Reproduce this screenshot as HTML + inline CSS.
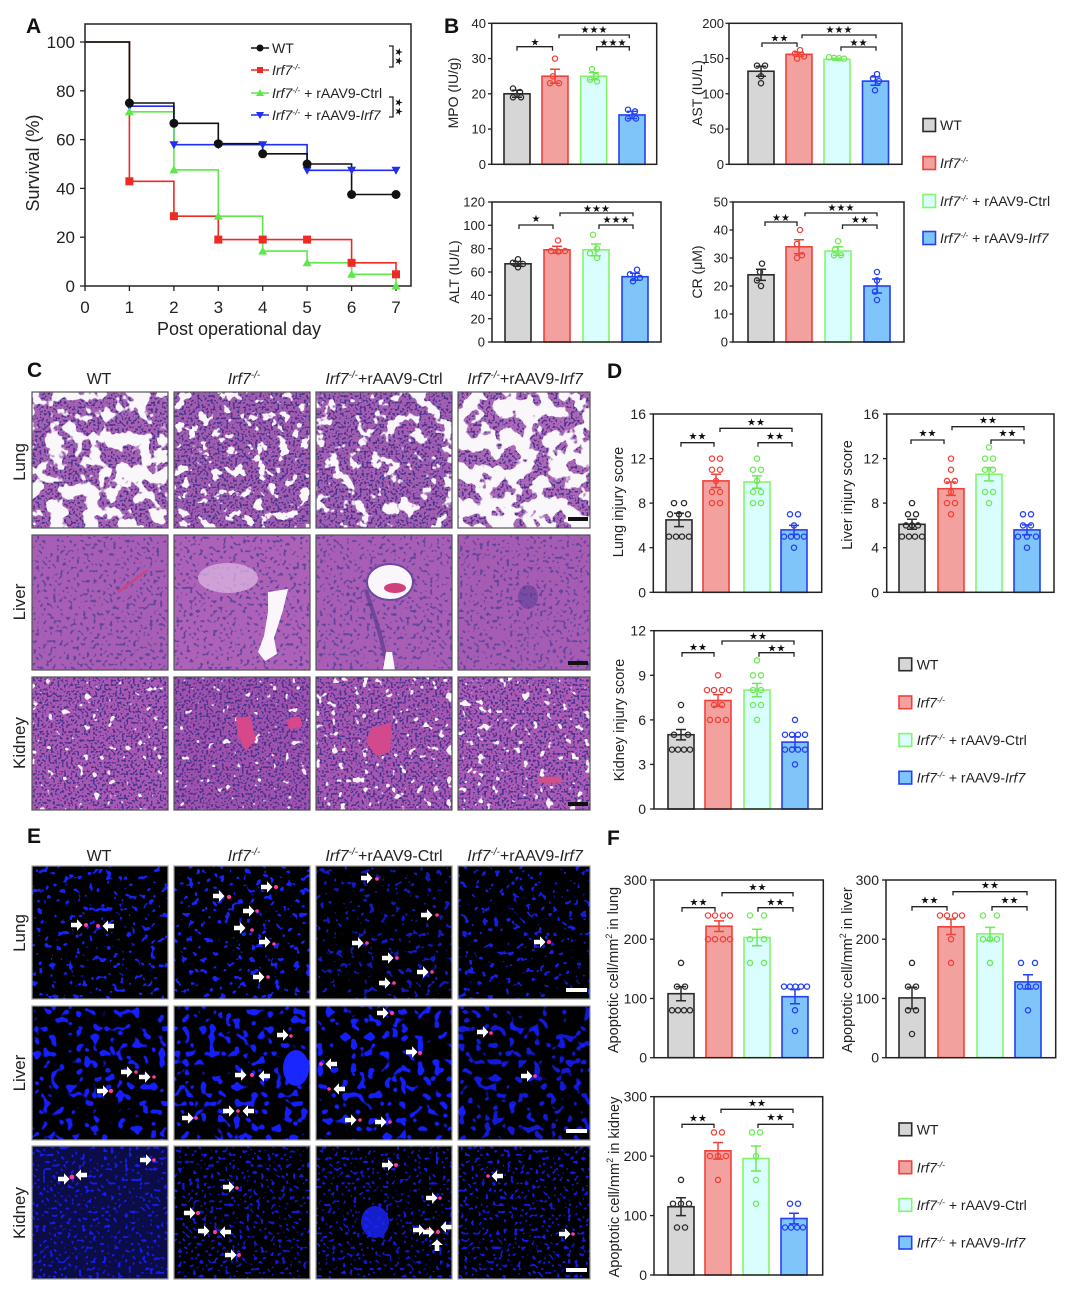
<!DOCTYPE html>
<html><head><meta charset="utf-8"><style>
html,body{margin:0;padding:0;background:#fff}
svg{display:block}
.ax{fill:none;stroke:#222;stroke-width:1.5}
.tk{stroke:#222;stroke-width:1.3}
.br{fill:none;stroke:#222;stroke-width:1.3}
.st{font-family:"DejaVu Sans",sans-serif;font-size:10px;fill:#111;text-anchor:middle}
.t13{font-size:13px;fill:#222}
.t14{font-size:14px;fill:#222}
.e{text-anchor:end}
.m{text-anchor:middle}
.wt{fill:#d6d6d6;stroke:#2a2a2a;stroke-width:1.6}
.ko{fill:#f2a19e;stroke:#f0413a;stroke-width:1.6}
.ct{fill:#dafdfd;stroke:#86f56c;stroke-width:1.6}
.rs{fill:#7fc5fa;stroke:#2340f4;stroke-width:1.6}
.ewt{stroke:#2a2a2a;stroke-width:1.5;fill:none}
.eko{stroke:#f0413a;stroke-width:1.5;fill:none}
.ect{stroke:#6fe858;stroke-width:1.5;fill:none}
.ers{stroke:#2340f4;stroke-width:1.5;fill:none}
.dwt circle{fill:none;stroke:#2a2a2a;stroke-width:1.3}
.dko circle{fill:none;stroke:#f0413a;stroke-width:1.3}
.dct circle{fill:none;stroke:#6fe858;stroke-width:1.3}
.drs circle{fill:none;stroke:#2340f4;stroke-width:1.3}
.lb{font-size:21px;font-weight:bold;fill:#111}
.it{font-style:italic}
.tb{fill:none;stroke:#555;stroke-width:1.2}
.tbe{fill:none;stroke:#999;stroke-width:1.2}
</style></head><body>
<svg width="1080" height="1298" viewBox="0 0 1080 1298" xmlns="http://www.w3.org/2000/svg" font-family="'Liberation Sans','DejaVu Sans',sans-serif">
<defs>
<filter id="hA" x="0" y="0" width="1" height="1" color-interpolation-filters="sRGB"><feTurbulence type="fractalNoise" baseFrequency="0.06" numOctaves="3" seed="3"/><feColorMatrix type="matrix" values="0 0 0 0 0.98 0 0 0 0 0.97 0 0 0 0 0.98 1 0 0 0 0"/><feComponentTransfer><feFuncA type="linear" slope="20" intercept="-9.9"/></feComponentTransfer></filter>
<filter id="hB" x="0" y="0" width="1" height="1" color-interpolation-filters="sRGB"><feTurbulence type="fractalNoise" baseFrequency="0.09" numOctaves="3" seed="5"/><feColorMatrix type="matrix" values="0 0 0 0 0.98 0 0 0 0 0.97 0 0 0 0 0.98 1 0 0 0 0"/><feComponentTransfer><feFuncA type="linear" slope="20" intercept="-11.9"/></feComponentTransfer></filter>
<filter id="hC" x="0" y="0" width="1" height="1" color-interpolation-filters="sRGB"><feTurbulence type="fractalNoise" baseFrequency="0.07" numOctaves="3" seed="7"/><feColorMatrix type="matrix" values="0 0 0 0 0.98 0 0 0 0 0.97 0 0 0 0 0.98 1 0 0 0 0"/><feComponentTransfer><feFuncA type="linear" slope="20" intercept="-11.5"/></feComponentTransfer></filter>
<filter id="hD" x="0" y="0" width="1" height="1" color-interpolation-filters="sRGB"><feTurbulence type="fractalNoise" baseFrequency="0.06" numOctaves="3" seed="11"/><feColorMatrix type="matrix" values="0 0 0 0 0.98 0 0 0 0 0.97 0 0 0 0 0.98 1 0 0 0 0"/><feComponentTransfer><feFuncA type="linear" slope="20" intercept="-9.1"/></feComponentTransfer></filter>
<filter id="hK" x="0" y="0" width="1" height="1" color-interpolation-filters="sRGB"><feTurbulence type="fractalNoise" baseFrequency="0.13" numOctaves="2" seed="13"/><feColorMatrix type="matrix" values="0 0 0 0 0.98 0 0 0 0 0.96 0 0 0 0 0.98 1 0 0 0 0"/><feComponentTransfer><feFuncA type="linear" slope="20" intercept="-13.9"/></feComponentTransfer></filter>
<filter id="hK2" x="0" y="0" width="1" height="1" color-interpolation-filters="sRGB"><feTurbulence type="fractalNoise" baseFrequency="0.13" numOctaves="2" seed="17"/><feColorMatrix type="matrix" values="0 0 0 0 0.98 0 0 0 0 0.96 0 0 0 0 0.98 1 0 0 0 0"/><feComponentTransfer><feFuncA type="linear" slope="20" intercept="-13.1"/></feComponentTransfer></filter>
<filter id="nD" x="0" y="0" width="1" height="1" color-interpolation-filters="sRGB"><feTurbulence type="fractalNoise" baseFrequency="0.45" numOctaves="1" seed="9"/><feColorMatrix type="matrix" values="0 0 0 0 0.29 0 0 0 0 0.2 0 0 0 0 0.55 0 1 0 0 0"/><feComponentTransfer><feFuncA type="linear" slope="12" intercept="-6.3"/></feComponentTransfer></filter>
<filter id="nS" x="0" y="0" width="1" height="1" color-interpolation-filters="sRGB"><feTurbulence type="fractalNoise" baseFrequency="0.3" numOctaves="1" seed="21"/><feColorMatrix type="matrix" values="0 0 0 0 0.38 0 0 0 0 0.27 0 0 0 0 0.62 0 1 0 0 0"/><feComponentTransfer><feFuncA type="linear" slope="12" intercept="-7.0"/></feComponentTransfer></filter>
<filter id="bL" x="0" y="0" width="1" height="1" color-interpolation-filters="sRGB"><feTurbulence type="fractalNoise" baseFrequency="0.16" numOctaves="2" seed="5"/><feColorMatrix type="matrix" values="0 0 0 0 0.08 0 0 0 0 0.14 0 0 0 0 1 1 0 0 0 0"/><feComponentTransfer><feFuncA type="linear" slope="20" intercept="-12.7"/></feComponentTransfer></filter>
<filter id="bLi" x="0" y="0" width="1" height="1" color-interpolation-filters="sRGB"><feTurbulence type="fractalNoise" baseFrequency="0.12" numOctaves="1" seed="8"/><feColorMatrix type="matrix" values="0 0 0 0 0.08 0 0 0 0 0.12 0 0 0 0 1 1 0 0 0 0"/><feComponentTransfer><feFuncA type="linear" slope="20" intercept="-12.3"/></feComponentTransfer></filter>
<filter id="bLi2" x="0" y="0" width="1" height="1" color-interpolation-filters="sRGB"><feTurbulence type="fractalNoise" baseFrequency="0.12" numOctaves="1" seed="31"/><feColorMatrix type="matrix" values="0 0 0 0 0.08 0 0 0 0 0.12 0 0 0 0 1 1 0 0 0 0"/><feComponentTransfer><feFuncA type="linear" slope="20" intercept="-12.3"/></feComponentTransfer></filter>
<filter id="bK" x="0" y="0" width="1" height="1" color-interpolation-filters="sRGB"><feTurbulence type="fractalNoise" baseFrequency="0.28" numOctaves="1" seed="11"/><feColorMatrix type="matrix" values="0 0 0 0 0.08 0 0 0 0 0.12 0 0 0 0 1 1 0 0 0 0"/><feComponentTransfer><feFuncA type="linear" slope="20" intercept="-12.1"/></feComponentTransfer></filter>
<symbol id="ar" overflow="visible"><polygon points="-11,-2.3 -5,-2.3 -5,-5.8 0.5,0 -5,5.8 -5,2.3 -11,2.3" fill="#fff"/></symbol>
</defs>

<!-- ================= PANEL A ================= -->
<text x="26" y="33" class="lb">A</text>
<rect x="85" y="24" width="326" height="262" class="ax"/>
<g class="tk">
<line x1="80" y1="42" x2="85" y2="42"/><line x1="80" y1="90.8" x2="85" y2="90.8"/><line x1="80" y1="139.6" x2="85" y2="139.6"/><line x1="80" y1="188.4" x2="85" y2="188.4"/><line x1="80" y1="237.2" x2="85" y2="237.2"/><line x1="80" y1="286" x2="85" y2="286"/>
<line x1="85" y1="286" x2="85" y2="291"/><line x1="129.4" y1="286" x2="129.4" y2="291"/><line x1="173.9" y1="286" x2="173.9" y2="291"/><line x1="218.3" y1="286" x2="218.3" y2="291"/><line x1="262.7" y1="286" x2="262.7" y2="291"/><line x1="307.1" y1="286" x2="307.1" y2="291"/><line x1="351.6" y1="286" x2="351.6" y2="291"/><line x1="396" y1="286" x2="396" y2="291"/>
</g>
<g font-size="17" fill="#222" text-anchor="end">
<text x="75" y="48">100</text><text x="75" y="96.8">80</text><text x="75" y="145.6">60</text><text x="75" y="194.4">40</text><text x="75" y="243.2">20</text><text x="75" y="292">0</text>
</g>
<g font-size="17" fill="#222" text-anchor="middle">
<text x="85" y="313">0</text><text x="129.4" y="313">1</text><text x="173.9" y="313">2</text><text x="218.3" y="313">3</text><text x="262.7" y="313">4</text><text x="307.1" y="313">5</text><text x="351.6" y="313">6</text><text x="396" y="313">7</text>
</g>
<text x="239" y="335" font-size="18" fill="#222" text-anchor="middle">Post operational day</text>
<text transform="translate(33,163) rotate(-90)" y="6" font-size="18" fill="#222" text-anchor="middle">Survival (%)</text>
<path d="M85,42 H129.4 V106.2 H173.9 V144.7 H307.1 V170.3 H396" fill="none" stroke="#1f2ef0" stroke-width="1.6"/>
<path d="M85,42 H129.4 V111.8 H173.9 V169.9 H218.3 V216.2 H262.7 V251.1 H307.1 V262.8 H351.6 V274.3 H396 V286" fill="none" stroke="#5ee84a" stroke-width="1.6"/>
<path d="M85,42 H129.4 V181.3 H173.9 V216.2 H218.3 V239.6 H351.6 V262.8 H396 V274.3" fill="none" stroke="#ee2a24" stroke-width="1.6"/>
<path d="M85,42 H129.4 V103 H173.9 V123.3 H218.3 V143.7 H262.7 V153.8 H307.1 V164 H351.6 V194.5 H396" fill="none" stroke="#111" stroke-width="1.6"/>
<g fill="#1f2ef0">
<polygon points="124.9,102.7 133.9,102.7 129.4,110.7"/><polygon points="169.4,141.2 178.4,141.2 173.9,149.2"/><polygon points="213.8,141.2 222.8,141.2 218.3,149.2"/><polygon points="258.2,141.2 267.2,141.2 262.7,149.2"/><polygon points="302.6,166.8 311.6,166.8 307.1,174.8"/><polygon points="347.1,166.8 356.1,166.8 351.6,174.8"/><polygon points="391.5,166.8 400.5,166.8 396,174.8"/>
</g>
<g fill="#5ee84a">
<polygon points="124.9,115.3 133.9,115.3 129.4,107.3"/><polygon points="169.4,173.4 178.4,173.4 173.9,165.4"/><polygon points="213.8,219.7 222.8,219.7 218.3,211.7"/><polygon points="258.2,254.6 267.2,254.6 262.7,246.6"/><polygon points="302.6,266.3 311.6,266.3 307.1,258.3"/><polygon points="347.1,277.8 356.1,277.8 351.6,269.8"/><polygon points="391.5,289.5 400.5,289.5 396,281.5"/>
</g>
<g fill="#ee2a24">
<rect x="125.4" y="177.3" width="8" height="8"/><rect x="169.9" y="212.2" width="8" height="8"/><rect x="214.3" y="235.6" width="8" height="8"/><rect x="258.7" y="235.6" width="8" height="8"/><rect x="303.1" y="235.6" width="8" height="8"/><rect x="347.6" y="258.8" width="8" height="8"/><rect x="392" y="270.3" width="8" height="8"/>
</g>
<g fill="#111">
<circle cx="129.4" cy="103" r="4.5"/><circle cx="173.9" cy="123.3" r="4.5"/><circle cx="218.3" cy="143.7" r="4.5"/><circle cx="262.7" cy="153.8" r="4.5"/><circle cx="307.1" cy="164" r="4.5"/><circle cx="351.6" cy="194.5" r="4.5"/><circle cx="396" cy="194.5" r="4.5"/>
</g>
<line x1="251" y1="48" x2="269" y2="48" stroke="#111" stroke-width="1.5"/><circle cx="260" cy="48" r="3.5" fill="#111"/>
<line x1="251" y1="70" x2="269" y2="70" stroke="#ee2a24" stroke-width="1.5"/><rect x="257" y="67" width="6" height="6" fill="#ee2a24"/>
<line x1="251" y1="93" x2="269" y2="93" stroke="#5ee84a" stroke-width="1.5"/><polygon points="256,96 264,96 260,89" fill="#5ee84a"/>
<line x1="251" y1="115" x2="269" y2="115" stroke="#1f2ef0" stroke-width="1.5"/><polygon points="256,112 264,112 260,119" fill="#1f2ef0"/>
<g font-size="14" fill="#222">
<text x="272" y="53">WT</text>
<text x="272" y="75"><tspan class="it">Irf7</tspan><tspan font-size="8.5" dy="-5" class="it">-/-</tspan></text>
<text x="272" y="98"><tspan class="it">Irf7</tspan><tspan font-size="8.5" dy="-5" class="it">-/-</tspan><tspan dy="5"> + rAAV9-Ctrl</tspan></text>
<text x="272" y="120"><tspan class="it">Irf7</tspan><tspan font-size="8.5" dy="-5" class="it">-/-</tspan><tspan dy="5"> + rAAV9-</tspan><tspan class="it">Irf7</tspan></text>
</g>
<path d="M389,46 H393 V67 H389" class="br"/>
<path d="M389,97 H393 V117 H389" class="br"/>
<text transform="translate(399,56.5) rotate(90)" y="3.5" class="st">★★</text>
<text transform="translate(399,107) rotate(90)" y="3.5" class="st">★★</text>

<!-- ================= PANEL B ================= -->
<text x="444" y="33" class="lb">B</text>
<g>
<g class="tk"><line x1="488" y1="164.3" x2="491.7" y2="164.3"/><line x1="488" y1="129.05" x2="491.7" y2="129.05"/><line x1="488" y1="93.8" x2="491.7" y2="93.8"/><line x1="488" y1="58.55" x2="491.7" y2="58.55"/><line x1="488" y1="23.3" x2="491.7" y2="23.3"/></g>
<g class="t13 e"><text x="486" y="169">0</text><text x="486" y="133.7">10</text><text x="486" y="98.5">20</text><text x="486" y="63.2">30</text><text x="486" y="28">40</text></g>
<text transform="translate(453,93) rotate(-90)" y="5" class="t14 m">MPO (IU/g)</text>
<rect x="504" y="93.8" width="26" height="70.5" class="wt"/>
<rect x="542" y="76.2" width="26" height="88.1" class="ko"/>
<rect x="580.7" y="76.2" width="26" height="88.1" class="ct"/>
<rect x="619" y="114.95" width="26" height="49.35" class="rs"/>
<path class="ewt" d="M517,90.3 V97.3 M512,90.3 H522 M512,97.3 H522"/>
<path class="eko" d="M555,69.2 V83.3 M550,69.2 H560 M550,83.3 H560"/>
<path class="ect" d="M593.7,72.7 V79.7 M588.7,72.7 H598.7 M588.7,79.7 H598.7"/>
<path class="ers" d="M632,111.4 V118.5 M627,111.4 H637 M627,118.5 H637"/>
<g class="dwt"><circle cx="513" cy="88.5" r="2.6"/><circle cx="520" cy="92" r="2.6"/><circle cx="513" cy="97.3" r="2.6"/><circle cx="521" cy="97.3" r="2.6"/></g>
<g class="dko"><circle cx="555" cy="58.6" r="2.6"/><circle cx="553" cy="76.2" r="2.6"/><circle cx="550" cy="83.2" r="2.6"/><circle cx="559" cy="83.2" r="2.6"/></g>
<g class="dct"><circle cx="592" cy="69.1" r="2.6"/><circle cx="596" cy="76.2" r="2.6"/><circle cx="590" cy="79.7" r="2.6"/><circle cx="597" cy="81.5" r="2.6"/></g>
<g class="drs"><circle cx="628" cy="109.7" r="2.6"/><circle cx="635" cy="111.4" r="2.6"/><circle cx="628" cy="118.5" r="2.6"/><circle cx="636" cy="118.5" r="2.6"/></g>
<path class="br" d="M517,50.7 V46.7 H552.5 V50.7 M559,38.3 V35 H629.3 V38.3 M596.7,50.7 V46.7 H629.3 V50.7"/>
<text x="535" y="45.5" class="st">★</text><text x="594" y="33" class="st">★★★</text><text x="613" y="46" class="st">★★★</text>
<rect x="491.7" y="23.3" width="165" height="141" class="ax"/>
</g>
<g>
<g class="tk"><line x1="725.5" y1="164.3" x2="729" y2="164.3"/><line x1="725.5" y1="129.05" x2="729" y2="129.05"/><line x1="725.5" y1="93.8" x2="729" y2="93.8"/><line x1="725.5" y1="58.55" x2="729" y2="58.55"/><line x1="725.5" y1="23.3" x2="729" y2="23.3"/></g>
<g class="t13 e"><text x="724" y="169">0</text><text x="724" y="133.7">50</text><text x="724" y="98.5">100</text><text x="724" y="63.2">150</text><text x="724" y="28">200</text></g>
<text transform="translate(697,93) rotate(-90)" y="5" class="t14 m">AST (IU/L)</text>
<rect x="748" y="71.24" width="26" height="93.06" class="wt"/>
<rect x="786" y="54.32" width="26" height="109.98" class="ko"/>
<rect x="824" y="59.26" width="26" height="105.04" class="ct"/>
<rect x="862.5" y="81.11" width="26" height="83.19" class="rs"/>
<path class="ewt" d="M761,66.3 V76.2 M756,66.3 H766 M756,76.2 H766"/>
<path class="eko" d="M799,52.2 V56.4 M794,52.2 H804 M794,56.4 H804"/>
<path class="ect" d="M837,58.2 V60.3 M832,58.2 H842 M832,60.3 H842"/>
<path class="ers" d="M875.5,76.9 V85.3 M870.5,76.9 H880.5 M870.5,85.3 H880.5"/>
<g class="dwt"><circle cx="757" cy="65.6" r="2.6"/><circle cx="765" cy="65.6" r="2.6"/><circle cx="761" cy="76.2" r="2.6"/><circle cx="761" cy="83.2" r="2.6"/></g>
<g class="dko"><circle cx="800" cy="50.1" r="2.6"/><circle cx="795" cy="53.6" r="2.6"/><circle cx="804" cy="56.4" r="2.6"/><circle cx="797" cy="58.6" r="2.6"/></g>
<g class="dct"><circle cx="829" cy="57.2" r="2.6"/><circle cx="834" cy="57.9" r="2.6"/><circle cx="839" cy="58.2" r="2.6"/><circle cx="844" cy="58.6" r="2.6"/></g>
<g class="drs"><circle cx="877" cy="74.1" r="2.6"/><circle cx="873" cy="78.3" r="2.6"/><circle cx="879" cy="81.1" r="2.6"/><circle cx="875" cy="90.3" r="2.6"/></g>
<path class="br" d="M762,47 V43 H797 V47 M802,38.3 V35 H876 V38.3 M841,50.7 V47 H876 V50.7"/>
<text x="779.5" y="41.4" class="st">★★</text><text x="839" y="33" class="st">★★★</text><text x="858.5" y="46" class="st">★★</text>
<rect x="729" y="23.3" width="173" height="141" class="ax"/>
</g>
<g>
<g class="tk"><line x1="488" y1="342" x2="492" y2="342"/><line x1="488" y1="318.7" x2="492" y2="318.7"/><line x1="488" y1="295.3" x2="492" y2="295.3"/><line x1="488" y1="272" x2="492" y2="272"/><line x1="488" y1="248.7" x2="492" y2="248.7"/><line x1="488" y1="225.3" x2="492" y2="225.3"/><line x1="488" y1="202" x2="492" y2="202"/></g>
<g class="t13 e"><text x="485" y="346.7">0</text><text x="485" y="323.4">20</text><text x="485" y="300">40</text><text x="485" y="276.7">60</text><text x="485" y="253.4">80</text><text x="485" y="230">100</text><text x="485" y="206.7">120</text></g>
<text transform="translate(454,272) rotate(-90)" y="5" class="t14 m">ALT (IU/L)</text>
<rect x="505" y="263.8" width="26" height="78.2" class="wt"/>
<rect x="544" y="249.8" width="26" height="92.2" class="ko"/>
<rect x="583" y="249.8" width="26" height="92.2" class="ct"/>
<rect x="622" y="276.7" width="26" height="65.3" class="rs"/>
<path class="ewt" d="M518,261.5 V266.2 M513,261.5 H523 M513,266.2 H523"/>
<path class="eko" d="M557,246.3 V253.3 M552,246.3 H562 M552,253.3 H562"/>
<path class="ect" d="M596,244 V255.7 M591,244 H601 M591,255.7 H601"/>
<path class="ers" d="M635,273.2 V280.2 M630,273.2 H640 M630,280.2 H640"/>
<g class="dwt"><circle cx="518" cy="259.2" r="2.6"/><circle cx="513" cy="262.7" r="2.6"/><circle cx="523" cy="264" r="2.6"/><circle cx="518" cy="267.3" r="2.6"/></g>
<g class="dko"><circle cx="558" cy="240.5" r="2.6"/><circle cx="551" cy="251" r="2.6"/><circle cx="558" cy="251.5" r="2.6"/><circle cx="565" cy="251" r="2.6"/></g>
<g class="dct"><circle cx="593" cy="234.7" r="2.6"/><circle cx="597" cy="248.7" r="2.6"/><circle cx="590" cy="253.3" r="2.6"/><circle cx="597" cy="258" r="2.6"/></g>
<g class="drs"><circle cx="637" cy="269.7" r="2.6"/><circle cx="630" cy="274.3" r="2.6"/><circle cx="640" cy="277.8" r="2.6"/><circle cx="633" cy="281.3" r="2.6"/></g>
<path class="br" d="M519,229 V225 H553 V229 M560,216.3 V213 H633 V216.3 M599,229 V225 H633 V229"/>
<text x="536" y="222" class="st">★</text><text x="596.5" y="212" class="st">★★★</text><text x="616" y="223" class="st">★★★</text>
<rect x="492" y="202" width="169" height="140" class="ax"/>
</g>
<g>
<g class="tk"><line x1="729.5" y1="342" x2="733" y2="342"/><line x1="729.5" y1="314" x2="733" y2="314"/><line x1="729.5" y1="286" x2="733" y2="286"/><line x1="729.5" y1="258" x2="733" y2="258"/><line x1="729.5" y1="230" x2="733" y2="230"/><line x1="729.5" y1="202" x2="733" y2="202"/></g>
<g class="t13 e"><text x="728" y="346.7">0</text><text x="728" y="318.7">10</text><text x="728" y="290.7">20</text><text x="728" y="262.7">30</text><text x="728" y="234.7">40</text><text x="728" y="206.7">50</text></g>
<text transform="translate(697,272) rotate(-90)" y="5" class="t14 m">CR (μM)</text>
<rect x="748" y="274.8" width="26" height="67.2" class="wt"/>
<rect x="786" y="246.8" width="26" height="95.2" class="ko"/>
<rect x="825" y="251" width="26" height="91" class="ct"/>
<rect x="864" y="286" width="26" height="56" class="rs"/>
<path class="ewt" d="M761,269.2 V280.4 M756,269.2 H766 M756,280.4 H766"/>
<path class="eko" d="M799,239.8 V253.8 M794,239.8 H804 M794,253.8 H804"/>
<path class="ect" d="M838,246.8 V255.2 M833,246.8 H843 M833,255.2 H843"/>
<path class="ers" d="M877,279 V293 M872,279 H882 M872,293 H882"/>
<g class="dwt"><circle cx="762" cy="263.6" r="2.6"/><circle cx="760" cy="272" r="2.6"/><circle cx="757" cy="280.4" r="2.6"/><circle cx="761" cy="286" r="2.6"/></g>
<g class="dko"><circle cx="800" cy="230" r="2.6"/><circle cx="797" cy="244" r="2.6"/><circle cx="802" cy="255.2" r="2.6"/><circle cx="797" cy="258" r="2.6"/></g>
<g class="dct"><circle cx="838" cy="241.2" r="2.6"/><circle cx="835" cy="249.6" r="2.6"/><circle cx="834" cy="255.2" r="2.6"/><circle cx="841" cy="255.2" r="2.6"/></g>
<g class="drs"><circle cx="877" cy="272" r="2.6"/><circle cx="877" cy="280.4" r="2.6"/><circle cx="875" cy="291.6" r="2.6"/><circle cx="877" cy="300" r="2.6"/></g>
<path class="br" d="M765,226 V222 H797 V226 M805,216.3 V213 H877 V216.3 M842.5,229 V225 H877 V229"/>
<text x="781" y="221" class="st">★★</text><text x="841" y="211" class="st">★★★</text><text x="860" y="223" class="st">★★</text>
<rect x="733" y="202" width="171" height="140" class="ax"/>
</g>
<rect x="923" y="118.5" width="12.5" height="13" class="wt"/>
<rect x="923" y="156.5" width="12.5" height="13" class="ko"/>
<rect x="923" y="194.5" width="12.5" height="13" class="ct"/>
<rect x="923" y="231.5" width="12.5" height="13" class="rs"/>
<g font-size="14" fill="#222">
<text x="940" y="130">WT</text>
<text x="940" y="168"><tspan class="it">Irf7</tspan><tspan font-size="8.5" dy="-5" class="it">-/-</tspan></text>
<text x="940" y="206"><tspan class="it">Irf7</tspan><tspan font-size="8.5" dy="-5" class="it">-/-</tspan><tspan dy="5"> + rAAV9-Ctrl</tspan></text>
<text x="940" y="243"><tspan class="it">Irf7</tspan><tspan font-size="8.5" dy="-5" class="it">-/-</tspan><tspan dy="5"> + rAAV9-</tspan><tspan class="it">Irf7</tspan></text>
</g>

<!-- ================= PANEL C ================= -->
<text x="27" y="377" class="lb">C</text>
<g font-size="16" fill="#222" text-anchor="middle">
<text x="99" y="384">WT</text>
<text x="244" y="384"><tspan class="it">Irf7</tspan><tspan font-size="10" dy="-6" class="it">-/-</tspan></text>
<text x="384" y="384"><tspan class="it">Irf7</tspan><tspan font-size="10" dy="-6" class="it">-/-</tspan><tspan dy="6">+rAAV9-Ctrl</tspan></text>
<text x="525" y="384"><tspan class="it">Irf7</tspan><tspan font-size="10" dy="-6" class="it">-/-</tspan><tspan dy="6">+rAAV9-</tspan><tspan class="it">Irf7</tspan></text>
</g>
<g font-size="17" fill="#222" text-anchor="middle">
<text transform="translate(19,462) rotate(-90)" y="6">Lung</text>
<text transform="translate(19,602) rotate(-90)" y="6">Liver</text>
<text transform="translate(19,743) rotate(-90)" y="6">Kidney</text>
</g>
<rect x="32" y="392" width="136" height="136" fill="#a862b4"/><rect x="32" y="392" width="136" height="136" filter="url(#nD)"/><rect x="32" y="392" width="136" height="136" filter="url(#hA)"/>
<rect x="174" y="392" width="136" height="136" fill="#a25cb0"/><rect x="174" y="392" width="136" height="136" filter="url(#nD)"/><rect x="174" y="392" width="136" height="136" filter="url(#hB)"/>
<rect x="316" y="392" width="136" height="136" fill="#a45eb2"/><rect x="316" y="392" width="136" height="136" filter="url(#nD)"/><rect x="316" y="392" width="136" height="136" filter="url(#hC)"/>
<rect x="458" y="392" width="132" height="136" fill="#ae68b8"/><rect x="458" y="392" width="132" height="136" filter="url(#nD)"/><rect x="458" y="392" width="132" height="136" filter="url(#hD)"/>
<rect x="32" y="535" width="136" height="135" fill="#a95eb5"/><rect x="32" y="535" width="136" height="135" filter="url(#nS)"/>
<line x1="118" y1="592" x2="148" y2="570" stroke="#c8477c" stroke-width="2.5"/>
<rect x="174" y="535" width="136" height="135" fill="#ad62b8"/><rect x="174" y="535" width="136" height="135" filter="url(#nS)"/>
<ellipse cx="228" cy="578" rx="30" ry="15" fill="#dcb6e2" opacity="0.75"/>
<polygon points="268,592 288,589 283,610 274,638 277,654 265,661 258,652 264,636 268,612" fill="#fbf6fb"/>
<rect x="316" y="535" width="136" height="135" fill="#a95eb5"/><rect x="316" y="535" width="136" height="135" filter="url(#nS)"/>
<path d="M366,590 C372,610 380,630 386,660" fill="none" stroke="#5a3a92" stroke-width="4" opacity="0.7"/>
<ellipse cx="390" cy="582" rx="23" ry="18" fill="#fbf6fb" stroke="#6a4aa0" stroke-width="2"/>
<ellipse cx="395" cy="588" rx="11" ry="5" fill="#d2407a"/>
<polygon points="386,652 392,652 395,670 383,670" fill="#fbf6fb"/>
<rect x="458" y="535" width="132" height="135" fill="#a75cb3"/><rect x="458" y="535" width="132" height="135" filter="url(#nS)"/>
<ellipse cx="528" cy="597" rx="10" ry="12" fill="#5e3e98" opacity="0.6"/>
<rect x="32" y="677" width="136" height="133" fill="#aa5ab4"/><rect x="32" y="677" width="136" height="133" filter="url(#nD)"/><rect x="32" y="677" width="136" height="133" filter="url(#hK)"/>
<rect x="174" y="677" width="136" height="133" fill="#a052ae"/><rect x="174" y="677" width="136" height="133" filter="url(#nD)"/><rect x="174" y="677" width="136" height="133" filter="url(#hK)"/>
<polygon points="236,718 250,716 256,740 246,750 238,736" fill="#d6488a"/>
<polygon points="286,720 300,716 302,726 290,730" fill="#d6488a"/>
<rect x="316" y="677" width="136" height="133" fill="#a858b2"/><rect x="316" y="677" width="136" height="133" filter="url(#nD)"/><rect x="316" y="677" width="136" height="133" filter="url(#hK2)"/>
<polygon points="372,728 392,722 390,752 376,756 366,742" fill="#d24a8c"/>
<rect x="458" y="677" width="132" height="133" fill="#ac5cb6"/><rect x="458" y="677" width="132" height="133" filter="url(#nD)"/><rect x="458" y="677" width="132" height="133" filter="url(#hK2)"/>
<ellipse cx="550" cy="780" rx="13" ry="3.5" fill="#d0508a"/>
<g class="tb">
<rect x="32" y="392" width="136" height="136"/><rect x="174" y="392" width="136" height="136"/><rect x="316" y="392" width="136" height="136"/><rect x="458" y="392" width="132" height="136"/>
<rect x="32" y="535" width="136" height="135"/><rect x="174" y="535" width="136" height="135"/><rect x="316" y="535" width="136" height="135"/><rect x="458" y="535" width="132" height="135"/>
<rect x="32" y="677" width="136" height="133"/><rect x="174" y="677" width="136" height="133"/><rect x="316" y="677" width="136" height="133"/><rect x="458" y="677" width="132" height="133"/>
</g>
<rect x="568" y="517" width="20" height="4" fill="#111"/>
<rect x="568" y="661" width="20" height="4" fill="#111"/>
<rect x="568" y="802" width="20" height="4" fill="#111"/>

<!-- ================= PANEL D ================= -->
<text x="607" y="378" class="lb">D</text>
<g>
<g class="tk"><line x1="649.5" y1="592.3" x2="653.3" y2="592.3"/><line x1="649.5" y1="547.7" x2="653.3" y2="547.7"/><line x1="649.5" y1="503.1" x2="653.3" y2="503.1"/><line x1="649.5" y1="458.6" x2="653.3" y2="458.6"/><line x1="649.5" y1="414" x2="653.3" y2="414"/></g>
<g class="t14 e"><text x="646" y="597.3">0</text><text x="646" y="552.7">4</text><text x="646" y="508.1">8</text><text x="646" y="463.6">12</text><text x="646" y="419">16</text></g>
<text transform="translate(618,502) rotate(-90)" y="5" class="m" font-size="14.5" fill="#222">Lung injury score</text>
<rect x="666" y="519.9" width="26" height="72.4" class="wt"/>
<rect x="703" y="480.9" width="26" height="111.4" class="ko"/>
<rect x="744" y="482" width="26" height="110.3" class="ct"/>
<rect x="781" y="529.9" width="26" height="62.4" class="rs"/>
<path class="ewt" d="M679,513.2 V526.6 M674,513.2 H684 M674,526.6 H684"/>
<path class="eko" d="M716,474.2 V487.6 M711,474.2 H721 M711,487.6 H721"/>
<path class="ect" d="M757,475.9 V488.2 M752,475.9 H762 M752,488.2 H762"/>
<path class="ers" d="M794,525.4 V534.4 M789,525.4 H799 M789,534.4 H799"/>
<g class="dwt"><circle cx="674" cy="503.1" r="2.6"/><circle cx="684" cy="503.1" r="2.6"/><circle cx="670" cy="514.3" r="2.6"/><circle cx="679" cy="514.3" r="2.6"/><circle cx="688" cy="514.3" r="2.6"/><circle cx="669" cy="536.6" r="2.6"/><circle cx="676" cy="536.6" r="2.6"/><circle cx="682" cy="536.6" r="2.6"/><circle cx="689" cy="536.6" r="2.6"/></g>
<g class="dko"><circle cx="712" cy="458.6" r="2.6"/><circle cx="720" cy="458.6" r="2.6"/><circle cx="712" cy="469.7" r="2.6"/><circle cx="720" cy="469.7" r="2.6"/><circle cx="716" cy="480.9" r="2.6"/><circle cx="712" cy="492" r="2.6"/><circle cx="720" cy="492" r="2.6"/><circle cx="712" cy="503.1" r="2.6"/><circle cx="720" cy="503.1" r="2.6"/></g>
<g class="dct"><circle cx="757" cy="458.6" r="2.6"/><circle cx="753" cy="469.7" r="2.6"/><circle cx="761" cy="469.7" r="2.6"/><circle cx="757" cy="480.9" r="2.6"/><circle cx="753" cy="492" r="2.6"/><circle cx="761" cy="492" r="2.6"/><circle cx="753" cy="503.1" r="2.6"/><circle cx="761" cy="503.1" r="2.6"/></g>
<g class="drs"><circle cx="790" cy="514.3" r="2.6"/><circle cx="798" cy="514.3" r="2.6"/><circle cx="794" cy="525.4" r="2.6"/><circle cx="784" cy="536.6" r="2.6"/><circle cx="791" cy="536.6" r="2.6"/><circle cx="797" cy="536.6" r="2.6"/><circle cx="804" cy="536.6" r="2.6"/><circle cx="794" cy="547.7" r="2.6"/></g>
<path class="br" d="M681,446.7 V442.7 H714 V446.7 M720,432 V428.3 H792 V432 M758,446.7 V442.7 H792 V446.7"/>
<text x="697.5" y="439.7" class="st">★★</text><text x="756" y="425.4" class="st">★★</text><text x="775" y="439.7" class="st">★★</text>
<rect x="653.3" y="414" width="168.4" height="178.3" class="ax"/>
</g>
<g>
<g class="tk"><line x1="883" y1="592.3" x2="886.7" y2="592.3"/><line x1="883" y1="547.7" x2="886.7" y2="547.7"/><line x1="883" y1="503.1" x2="886.7" y2="503.1"/><line x1="883" y1="458.6" x2="886.7" y2="458.6"/><line x1="883" y1="414" x2="886.7" y2="414"/></g>
<g class="t14 e"><text x="879" y="597.3">0</text><text x="879" y="552.7">4</text><text x="879" y="508.1">8</text><text x="879" y="463.6">12</text><text x="879" y="419">16</text></g>
<text transform="translate(847,495) rotate(-90)" y="5" class="m" font-size="14.5" fill="#222">Liver injury score</text>
<rect x="899" y="524.3" width="26" height="68" class="wt"/>
<rect x="938" y="488.7" width="26" height="103.6" class="ko"/>
<rect x="976" y="474.2" width="26" height="118.1" class="ct"/>
<rect x="1014" y="529.9" width="26" height="62.4" class="rs"/>
<path class="ewt" d="M912,519.3 V529.3 M907,519.3 H917 M907,529.3 H917"/>
<path class="eko" d="M951,482 V495.4 M946,482 H956 M946,495.4 H956"/>
<path class="ect" d="M989,467.5 V480.9 M984,467.5 H994 M984,480.9 H994"/>
<path class="ers" d="M1027,524.9 V534.9 M1022,524.9 H1032 M1022,534.9 H1032"/>
<g class="dwt"><circle cx="912" cy="503.1" r="2.6"/><circle cx="908" cy="514.3" r="2.6"/><circle cx="916" cy="514.3" r="2.6"/><circle cx="906" cy="525.4" r="2.6"/><circle cx="912" cy="525.4" r="2.6"/><circle cx="918" cy="525.4" r="2.6"/><circle cx="902" cy="536.6" r="2.6"/><circle cx="909" cy="536.6" r="2.6"/><circle cx="915" cy="536.6" r="2.6"/><circle cx="922" cy="536.6" r="2.6"/></g>
<g class="dko"><circle cx="951" cy="458.6" r="2.6"/><circle cx="951" cy="469.7" r="2.6"/><circle cx="947" cy="480.9" r="2.6"/><circle cx="955" cy="480.9" r="2.6"/><circle cx="951" cy="492" r="2.6"/><circle cx="947" cy="503.1" r="2.6"/><circle cx="955" cy="503.1" r="2.6"/><circle cx="951" cy="514.3" r="2.6"/></g>
<g class="dct"><circle cx="989" cy="447.4" r="2.6"/><circle cx="985" cy="458.6" r="2.6"/><circle cx="993" cy="458.6" r="2.6"/><circle cx="985" cy="469.7" r="2.6"/><circle cx="993" cy="469.7" r="2.6"/><circle cx="985" cy="492" r="2.6"/><circle cx="993" cy="492" r="2.6"/><circle cx="989" cy="503.1" r="2.6"/></g>
<g class="drs"><circle cx="1023" cy="514.3" r="2.6"/><circle cx="1031" cy="514.3" r="2.6"/><circle cx="1023" cy="525.4" r="2.6"/><circle cx="1031" cy="525.4" r="2.6"/><circle cx="1018" cy="536.6" r="2.6"/><circle cx="1027" cy="536.6" r="2.6"/><circle cx="1036" cy="536.6" r="2.6"/><circle cx="1027" cy="547.7" r="2.6"/></g>
<path class="br" d="M911,444 V440 H944 V444 M952,430.3 V426.7 H1024 V430.3 M991,444 V440 H1024 V444"/>
<text x="927.5" y="436.4" class="st">★★</text><text x="988" y="423.7" class="st">★★</text><text x="1007.5" y="436.4" class="st">★★</text>
<rect x="886.7" y="414" width="167.3" height="178.3" class="ax"/>
</g>
<g>
<g class="tk"><line x1="650" y1="809" x2="654" y2="809"/><line x1="650" y1="764.4" x2="654" y2="764.4"/><line x1="650" y1="719.9" x2="654" y2="719.9"/><line x1="650" y1="675.3" x2="654" y2="675.3"/><line x1="650" y1="630.7" x2="654" y2="630.7"/></g>
<g class="t14 e"><text x="646" y="814">0</text><text x="646" y="769.4">3</text><text x="646" y="724.9">6</text><text x="646" y="680.3">9</text><text x="646" y="635.7">12</text></g>
<text transform="translate(619,720) rotate(-90)" y="5" class="m" font-size="14.5" fill="#222">Kidney injury score</text>
<rect x="668" y="734.7" width="26" height="74.3" class="wt"/>
<rect x="705" y="700.5" width="26" height="108.5" class="ko"/>
<rect x="744" y="690.1" width="26" height="118.9" class="ct"/>
<rect x="782" y="742.1" width="26" height="66.9" class="rs"/>
<path class="ewt" d="M681,729.5 V739.9 M676,729.5 H686 M676,739.9 H686"/>
<path class="eko" d="M718,694.6 V706.4 M713,694.6 H723 M713,706.4 H723"/>
<path class="ect" d="M757,683.4 V696.8 M752,683.4 H762 M752,696.8 H762"/>
<path class="ers" d="M795,736.9 V747.3 M790,736.9 H800 M790,747.3 H800"/>
<g class="dwt"><circle cx="681" cy="705" r="2.6"/><circle cx="681" cy="719.9" r="2.6"/><circle cx="674" cy="734.7" r="2.6"/><circle cx="688" cy="734.7" r="2.6"/><circle cx="672" cy="749.6" r="2.6"/><circle cx="678" cy="749.6" r="2.6"/><circle cx="684" cy="749.6" r="2.6"/><circle cx="690" cy="749.6" r="2.6"/></g>
<g class="dko"><circle cx="718" cy="675.3" r="2.6"/><circle cx="707" cy="690.1" r="2.6"/><circle cx="714" cy="690.1" r="2.6"/><circle cx="722" cy="690.1" r="2.6"/><circle cx="729" cy="690.1" r="2.6"/><circle cx="714" cy="705" r="2.6"/><circle cx="722" cy="705" r="2.6"/><circle cx="710" cy="719.9" r="2.6"/><circle cx="718" cy="719.9" r="2.6"/><circle cx="726" cy="719.9" r="2.6"/></g>
<g class="dct"><circle cx="757" cy="660.4" r="2.6"/><circle cx="753" cy="675.3" r="2.6"/><circle cx="761" cy="675.3" r="2.6"/><circle cx="753" cy="690.1" r="2.6"/><circle cx="761" cy="690.1" r="2.6"/><circle cx="753" cy="705" r="2.6"/><circle cx="761" cy="705" r="2.6"/><circle cx="757" cy="719.9" r="2.6"/></g>
<g class="drs"><circle cx="795" cy="719.9" r="2.6"/><circle cx="785" cy="734.7" r="2.6"/><circle cx="792" cy="734.7" r="2.6"/><circle cx="798" cy="734.7" r="2.6"/><circle cx="805" cy="734.7" r="2.6"/><circle cx="785" cy="749.6" r="2.6"/><circle cx="792" cy="749.6" r="2.6"/><circle cx="798" cy="749.6" r="2.6"/><circle cx="805" cy="749.6" r="2.6"/><circle cx="795" cy="764.4" r="2.6"/></g>
<path class="br" d="M682,656.7 V652.7 H714 V656.7 M722,644.7 V641 H794 V644.7 M759,656.7 V652.7 H794 V656.7"/>
<text x="698" y="650.4" class="st">★★</text><text x="758" y="639.7" class="st">★★</text><text x="776.5" y="651.4" class="st">★★</text>
<rect x="654" y="630.7" width="168.3" height="178.3" class="ax"/>
</g>
<rect x="899" y="658" width="12.7" height="12.7" class="wt"/>
<rect x="899" y="696" width="12.7" height="12.7" class="ko"/>
<rect x="899" y="733.6" width="12.7" height="12.7" class="ct"/>
<rect x="899" y="771.3" width="12.7" height="12.7" class="rs"/>
<g font-size="14" fill="#222">
<text x="916.7" y="669.3">WT</text>
<text x="916.7" y="707.3"><tspan class="it">Irf7</tspan><tspan font-size="8.5" dy="-5" class="it">-/-</tspan></text>
<text x="916.7" y="745"><tspan class="it">Irf7</tspan><tspan font-size="8.5" dy="-5" class="it">-/-</tspan><tspan dy="5"> + rAAV9-Ctrl</tspan></text>
<text x="916.7" y="782.7"><tspan class="it">Irf7</tspan><tspan font-size="8.5" dy="-5" class="it">-/-</tspan><tspan dy="5"> + rAAV9-</tspan><tspan class="it">Irf7</tspan></text>
</g>

<!-- ================= PANEL E ================= -->
<text x="27" y="843" class="lb">E</text>
<g font-size="16" fill="#222" text-anchor="middle">
<text x="99" y="861">WT</text>
<text x="244" y="861"><tspan class="it">Irf7</tspan><tspan font-size="10" dy="-6" class="it">-/-</tspan></text>
<text x="384" y="861"><tspan class="it">Irf7</tspan><tspan font-size="10" dy="-6" class="it">-/-</tspan><tspan dy="6">+rAAV9-Ctrl</tspan></text>
<text x="525" y="861"><tspan class="it">Irf7</tspan><tspan font-size="10" dy="-6" class="it">-/-</tspan><tspan dy="6">+rAAV9-</tspan><tspan class="it">Irf7</tspan></text>
</g>
<g font-size="17" fill="#222" text-anchor="middle">
<text transform="translate(19,933) rotate(-90)" y="6">Lung</text>
<text transform="translate(19,1073) rotate(-90)" y="6">Liver</text>
<text transform="translate(19,1213) rotate(-90)" y="6">Kidney</text>
</g>
<rect x="32" y="866" width="136" height="133" fill="#000"/><rect x="32" y="866" width="136" height="133" filter="url(#bL)"/>
<rect x="174" y="866" width="136" height="133" fill="#000"/><rect x="174" y="866" width="136" height="133" filter="url(#bL)"/>
<rect x="316" y="866" width="136" height="133" fill="#000"/><rect x="316" y="866" width="136" height="133" filter="url(#bL)" opacity="0.75"/>
<rect x="458" y="866" width="132" height="133" fill="#000"/><rect x="458" y="866" width="132" height="133" filter="url(#bL)" opacity="0.9"/>
<rect x="32" y="1006" width="136" height="134" fill="#000"/><rect x="32" y="1006" width="136" height="134" filter="url(#bLi)"/><rect x="32" y="1006" width="136" height="134" filter="url(#bLi2)"/>
<rect x="174" y="1006" width="136" height="134" fill="#000"/><rect x="174" y="1006" width="136" height="134" filter="url(#bLi)"/><rect x="174" y="1006" width="136" height="134" filter="url(#bLi2)"/>
<ellipse cx="296" cy="1068" rx="13" ry="18" fill="#1a26ff"/>
<rect x="316" y="1006" width="136" height="134" fill="#000"/><rect x="316" y="1006" width="136" height="134" filter="url(#bLi)"/><rect x="316" y="1006" width="136" height="134" filter="url(#bLi2)"/>
<rect x="458" y="1006" width="132" height="134" fill="#000"/><rect x="458" y="1006" width="132" height="134" filter="url(#bLi)" opacity="0.85"/><rect x="458" y="1006" width="132" height="134" filter="url(#bLi2)" opacity="0.85"/>
<rect x="32" y="1146" width="136" height="133" fill="#0c0c46"/><rect x="32" y="1146" width="136" height="133" filter="url(#bK)" opacity="0.9"/>
<rect x="174" y="1146" width="136" height="133" fill="#000"/><rect x="174" y="1146" width="136" height="133" filter="url(#bK)" opacity="0.85"/>
<rect x="316" y="1146" width="136" height="133" fill="#000"/><rect x="316" y="1146" width="136" height="133" filter="url(#bK)" opacity="0.85"/>
<ellipse cx="375" cy="1222" rx="14" ry="16" fill="#1a26ff" opacity="0.8"/>
<rect x="458" y="1146" width="132" height="133" fill="#000"/><rect x="458" y="1146" width="132" height="133" filter="url(#bK)" opacity="0.9"/>
<g fill="#ff3c9a">
<circle cx="86" cy="925" r="2"/><circle cx="98" cy="926" r="2"/>
<circle cx="229" cy="897" r="2.2"/><circle cx="276" cy="887" r="2"/><circle cx="257" cy="911" r="1.8"/><circle cx="252" cy="930" r="1.8"/><circle cx="274" cy="944" r="1.8"/><circle cx="268" cy="977" r="1.8"/>
<circle cx="377" cy="879" r="1.8"/><circle cx="437" cy="915" r="1.8"/><circle cx="367" cy="943" r="1.8"/><circle cx="397" cy="958" r="1.8"/><circle cx="394" cy="983" r="1.8"/><circle cx="432" cy="972" r="1.8"/>
<circle cx="549" cy="942" r="2.2"/>
<circle cx="136" cy="1072" r="1.8"/><circle cx="154" cy="1077" r="1.8"/><circle cx="111" cy="1091" r="2.2"/>
<circle cx="291" cy="1036" r="1.8"/><circle cx="252" cy="1075" r="2"/><circle cx="196" cy="1118" r="1.8"/><circle cx="238" cy="1111" r="1.8"/>
<circle cx="392" cy="1013" r="2"/><circle cx="420" cy="1053" r="2"/><circle cx="321" cy="1064" r="1.8"/><circle cx="329" cy="1089" r="1.8"/><circle cx="360" cy="1120" r="1.8"/><circle cx="390" cy="1122" r="1.8"/>
<circle cx="491" cy="1033" r="1.8"/><circle cx="535" cy="1076" r="1.8"/>
<circle cx="154" cy="1160" r="1.8"/><circle cx="72" cy="1177" r="2.4"/>
<circle cx="237" cy="1188" r="1.8"/><circle cx="198" cy="1213" r="2"/><circle cx="215" cy="1232" r="2"/><circle cx="239" cy="1255" r="2"/>
<circle cx="396" cy="1165" r="2"/><circle cx="440" cy="1198" r="1.8"/><circle cx="428" cy="1230" r="2"/><circle cx="438" cy="1232" r="2"/>
<circle cx="488" cy="1176" r="1.8"/><circle cx="573" cy="1234" r="1.8"/>
</g>
<use href="#ar" transform="translate(82,925)"/><use href="#ar" transform="translate(103,926) scale(-1,1)"/>
<use href="#ar" transform="translate(224,896)"/><use href="#ar" transform="translate(272,887)"/><use href="#ar" transform="translate(254,911)"/><use href="#ar" transform="translate(245,928)"/><use href="#ar" transform="translate(270,942)"/><use href="#ar" transform="translate(264,977)"/>
<use href="#ar" transform="translate(372,878)"/><use href="#ar" transform="translate(432,915)"/><use href="#ar" transform="translate(363,943)"/><use href="#ar" transform="translate(393,958)"/><use href="#ar" transform="translate(390,983)"/><use href="#ar" transform="translate(428,972)"/>
<use href="#ar" transform="translate(545,942)"/>
<use href="#ar" transform="translate(132,1072)"/><use href="#ar" transform="translate(150,1077)"/><use href="#ar" transform="translate(108,1091)"/>
<use href="#ar" transform="translate(288,1035)"/><use href="#ar" transform="translate(246,1075)"/><use href="#ar" transform="translate(259,1076) scale(-1,1)"/><use href="#ar" transform="translate(193,1118)"/><use href="#ar" transform="translate(234,1111)"/><use href="#ar" transform="translate(243,1111) scale(-1,1)"/>
<use href="#ar" transform="translate(388,1013)"/><use href="#ar" transform="translate(417,1052)"/><use href="#ar" transform="translate(326,1064) scale(-1,1)"/><use href="#ar" transform="translate(334,1089) scale(-1,1)"/><use href="#ar" transform="translate(356,1120)"/><use href="#ar" transform="translate(386,1122)"/>
<use href="#ar" transform="translate(488,1032)"/><use href="#ar" transform="translate(532,1076)"/>
<use href="#ar" transform="translate(151,1160)"/><use href="#ar" transform="translate(69,1179)"/><use href="#ar" transform="translate(76,1175) scale(-1,1)"/>
<use href="#ar" transform="translate(234,1187)"/><use href="#ar" transform="translate(195,1213)"/><use href="#ar" transform="translate(209,1231)"/><use href="#ar" transform="translate(220,1232) scale(-1,1)"/><use href="#ar" transform="translate(236,1255)"/>
<use href="#ar" transform="translate(393,1165)"/><use href="#ar" transform="translate(437,1198)"/><use href="#ar" transform="translate(424,1230)"/><use href="#ar" transform="translate(434,1232)"/><use href="#ar" transform="translate(441,1227) scale(-1,1)"/><use href="#ar" transform="translate(437,1240) rotate(-90)"/>
<use href="#ar" transform="translate(492,1176) scale(-1,1)"/><use href="#ar" transform="translate(570,1234)"/>
<g class="tbe">
<rect x="32" y="866" width="136" height="133"/><rect x="174" y="866" width="136" height="133"/><rect x="316" y="866" width="136" height="133"/><rect x="458" y="866" width="132" height="133"/>
<rect x="32" y="1006" width="136" height="134"/><rect x="174" y="1006" width="136" height="134"/><rect x="316" y="1006" width="136" height="134"/><rect x="458" y="1006" width="132" height="134"/>
<rect x="32" y="1146" width="136" height="133"/><rect x="174" y="1146" width="136" height="133"/><rect x="316" y="1146" width="136" height="133"/><rect x="458" y="1146" width="132" height="133"/>
</g>
<rect x="566" y="988" width="21" height="4" fill="#fff"/>
<rect x="566" y="1129" width="21" height="4" fill="#fff"/>
<rect x="566" y="1268" width="21" height="4" fill="#fff"/>

<!-- ================= PANEL F ================= -->
<text x="607" y="845" class="lb">F</text>
<g>
<g class="tk"><line x1="650" y1="1057.7" x2="654" y2="1057.7"/><line x1="650" y1="998.5" x2="654" y2="998.5"/><line x1="650" y1="939.2" x2="654" y2="939.2"/><line x1="650" y1="880" x2="654" y2="880"/></g>
<g class="t14 e"><text x="647" y="1062.7">0</text><text x="647" y="1003.5">100</text><text x="647" y="944.2">200</text><text x="647" y="885">300</text></g>
<text transform="translate(613,970) rotate(-90)" y="5" class="m" font-size="14.5" fill="#222">Apoptotic cell/mm<tspan font-size="9" dy="-6">2</tspan><tspan dy="6"> in lung</tspan></text>
<rect x="668" y="993.7" width="26" height="64" class="wt"/>
<rect x="706" y="926.2" width="26" height="131.5" class="ko"/>
<rect x="744" y="937.5" width="26" height="120.2" class="ct"/>
<rect x="782" y="996.7" width="26" height="61" class="rs"/>
<path class="ewt" d="M681,986.6 V1000.8 M676,986.6 H686 M676,1000.8 H686"/>
<path class="eko" d="M719,920.9 V931.5 M714,920.9 H724 M714,931.5 H724"/>
<path class="ect" d="M757,929.2 V945.8 M752,929.2 H762 M752,945.8 H762"/>
<path class="ers" d="M795,989.6 V1003.8 M790,989.6 H800 M790,1003.8 H800"/>
<g class="dwt"><circle cx="681" cy="962.9" r="2.6"/><circle cx="677" cy="986.6" r="2.6"/><circle cx="685" cy="986.6" r="2.6"/><circle cx="672" cy="1010.3" r="2.6"/><circle cx="678" cy="1010.3" r="2.6"/><circle cx="684" cy="1010.3" r="2.6"/><circle cx="690" cy="1010.3" r="2.6"/></g>
<g class="dko"><circle cx="708" cy="915.5" r="2.6"/><circle cx="715" cy="915.5" r="2.6"/><circle cx="723" cy="915.5" r="2.6"/><circle cx="730" cy="915.5" r="2.6"/><circle cx="708" cy="939.2" r="2.6"/><circle cx="715" cy="939.2" r="2.6"/><circle cx="723" cy="939.2" r="2.6"/><circle cx="730" cy="939.2" r="2.6"/></g>
<g class="dct"><circle cx="750" cy="915.5" r="2.6"/><circle cx="764" cy="915.5" r="2.6"/><circle cx="750" cy="939.2" r="2.6"/><circle cx="764" cy="939.2" r="2.6"/><circle cx="750" cy="962.9" r="2.6"/><circle cx="764" cy="962.9" r="2.6"/></g>
<g class="drs"><circle cx="784" cy="986.6" r="2.6"/><circle cx="790" cy="986.6" r="2.6"/><circle cx="795.5" cy="986.6" r="2.6"/><circle cx="801" cy="986.6" r="2.6"/><circle cx="807" cy="986.6" r="2.6"/><circle cx="795" cy="1010.3" r="2.6"/><circle cx="795" cy="1031" r="2.6"/></g>
<path class="br" d="M682,911.7 V907.7 H715 V911.7 M722,896.4 V892.7 H793 V896.4 M758,911.7 V907.7 H793 V911.7"/>
<text x="698.5" y="905.4" class="st">★★</text><text x="757.5" y="890.4" class="st">★★</text><text x="775.5" y="905.4" class="st">★★</text>
<rect x="654" y="880" width="169.3" height="177.7" class="ax"/>
</g>
<g>
<g class="tk"><line x1="882" y1="1057.7" x2="886" y2="1057.7"/><line x1="882" y1="998.5" x2="886" y2="998.5"/><line x1="882" y1="939.2" x2="886" y2="939.2"/><line x1="882" y1="880" x2="886" y2="880"/></g>
<g class="t14 e"><text x="879" y="1062.7">0</text><text x="879" y="1003.5">100</text><text x="879" y="944.2">200</text><text x="879" y="885">300</text></g>
<text transform="translate(847,970) rotate(-90)" y="5" class="m" font-size="14.5" fill="#222">Apoptotic cell/mm<tspan font-size="9" dy="-6">2</tspan><tspan dy="6"> in liver</tspan></text>
<rect x="899" y="997.9" width="26" height="59.8" class="wt"/>
<rect x="938" y="926.8" width="26" height="130.9" class="ko"/>
<rect x="977" y="933.9" width="26" height="123.8" class="ct"/>
<rect x="1015" y="981.9" width="26" height="75.8" class="rs"/>
<path class="ewt" d="M912,987.2 V1008.6 M907,987.2 H917 M907,1008.6 H917"/>
<path class="eko" d="M951,919.1 V934.5 M946,919.1 H956 M946,934.5 H956"/>
<path class="ect" d="M990,927.4 V940.4 M985,927.4 H995 M985,940.4 H995"/>
<path class="ers" d="M1028,974.8 V989 M1023,974.8 H1033 M1023,989 H1033"/>
<g class="dwt"><circle cx="912" cy="962.9" r="2.6"/><circle cx="908" cy="986.6" r="2.6"/><circle cx="916" cy="986.6" r="2.6"/><circle cx="908" cy="1010.3" r="2.6"/><circle cx="916" cy="1010.3" r="2.6"/><circle cx="912" cy="1034" r="2.6"/></g>
<g class="dko"><circle cx="940" cy="915.5" r="2.6"/><circle cx="947" cy="915.5" r="2.6"/><circle cx="955" cy="915.5" r="2.6"/><circle cx="962" cy="915.5" r="2.6"/><circle cx="951" cy="939.2" r="2.6"/><circle cx="951" cy="962.9" r="2.6"/></g>
<g class="dct"><circle cx="983" cy="915.5" r="2.6"/><circle cx="997" cy="915.5" r="2.6"/><circle cx="983" cy="939.2" r="2.6"/><circle cx="990" cy="939.2" r="2.6"/><circle cx="997" cy="939.2" r="2.6"/><circle cx="990" cy="962.9" r="2.6"/></g>
<g class="drs"><circle cx="1021" cy="962.9" r="2.6"/><circle cx="1035" cy="962.9" r="2.6"/><circle cx="1020" cy="986.6" r="2.6"/><circle cx="1028" cy="986.6" r="2.6"/><circle cx="1036" cy="986.6" r="2.6"/><circle cx="1028" cy="1010.3" r="2.6"/></g>
<path class="br" d="M912,910.7 V906.7 H947 V910.7 M953,895.4 V891.7 H1027 V895.4 M992,910.7 V906.7 H1027 V910.7"/>
<text x="929.5" y="903.7" class="st">★★</text><text x="990" y="888.7" class="st">★★</text><text x="1009.5" y="903.7" class="st">★★</text>
<rect x="886" y="880" width="169.7" height="177.7" class="ax"/>
</g>
<g>
<g class="tk"><line x1="650" y1="1275" x2="654" y2="1275"/><line x1="650" y1="1215.6" x2="654" y2="1215.6"/><line x1="650" y1="1156.1" x2="654" y2="1156.1"/><line x1="650" y1="1096.7" x2="654" y2="1096.7"/></g>
<g class="t14 e"><text x="647" y="1280">0</text><text x="647" y="1220.6">100</text><text x="647" y="1161.1">200</text><text x="647" y="1101.7">300</text></g>
<text transform="translate(614,1187) rotate(-90)" y="5" class="m" font-size="14.5" fill="#222">Apoptotic cell/mm<tspan font-size="9" dy="-6">2</tspan><tspan dy="6"> in kidney</tspan></text>
<rect x="668" y="1206.7" width="26" height="68.3" class="wt"/>
<rect x="705" y="1150.8" width="26" height="124.2" class="ko"/>
<rect x="743" y="1158.5" width="26" height="116.5" class="ct"/>
<rect x="781" y="1218.5" width="26" height="56.5" class="rs"/>
<path class="ewt" d="M681,1197.8 V1215.6 M676,1197.8 H686 M676,1215.6 H686"/>
<path class="eko" d="M718,1142.5 V1159.1 M713,1142.5 H723 M713,1159.1 H723"/>
<path class="ect" d="M756,1146 V1171 M751,1146 H761 M751,1171 H761"/>
<path class="ers" d="M794,1213.2 V1223.9 M789,1213.2 H799 M789,1223.9 H799"/>
<g class="dwt"><circle cx="681" cy="1179.9" r="2.6"/><circle cx="673" cy="1203.7" r="2.6"/><circle cx="681" cy="1203.7" r="2.6"/><circle cx="689" cy="1203.7" r="2.6"/><circle cx="677" cy="1227.5" r="2.6"/><circle cx="685" cy="1227.5" r="2.6"/></g>
<g class="dko"><circle cx="714" cy="1132.4" r="2.6"/><circle cx="722" cy="1132.4" r="2.6"/><circle cx="710" cy="1156.1" r="2.6"/><circle cx="718" cy="1156.1" r="2.6"/><circle cx="726" cy="1156.1" r="2.6"/><circle cx="718" cy="1179.9" r="2.6"/></g>
<g class="dct"><circle cx="752" cy="1132.4" r="2.6"/><circle cx="760" cy="1132.4" r="2.6"/><circle cx="756" cy="1156.1" r="2.6"/><circle cx="756" cy="1179.9" r="2.6"/><circle cx="756" cy="1203.7" r="2.6"/></g>
<g class="drs"><circle cx="790" cy="1203.7" r="2.6"/><circle cx="798" cy="1203.7" r="2.6"/><circle cx="785" cy="1227.5" r="2.6"/><circle cx="791" cy="1227.5" r="2.6"/><circle cx="797" cy="1227.5" r="2.6"/><circle cx="803" cy="1227.5" r="2.6"/></g>
<path class="br" d="M682,1128 V1124.3 H714 V1128 M721,1113 V1109.3 H793 V1113 M758,1128 V1124.3 H793 V1128"/>
<text x="698" y="1121.4" class="st">★★</text><text x="757" y="1106.4" class="st">★★</text><text x="775.5" y="1120.4" class="st">★★</text>
<rect x="654" y="1096.7" width="168.7" height="178.3" class="ax"/>
</g>
<rect x="899" y="1123" width="12.7" height="12.7" class="wt"/>
<rect x="899" y="1161" width="12.7" height="12.7" class="ko"/>
<rect x="899" y="1198.6" width="12.7" height="12.7" class="ct"/>
<rect x="899" y="1236.3" width="12.7" height="12.7" class="rs"/>
<g font-size="14" fill="#222">
<text x="916.7" y="1134.3">WT</text>
<text x="916.7" y="1172.3"><tspan class="it">Irf7</tspan><tspan font-size="8.5" dy="-5" class="it">-/-</tspan></text>
<text x="916.7" y="1210"><tspan class="it">Irf7</tspan><tspan font-size="8.5" dy="-5" class="it">-/-</tspan><tspan dy="5"> + rAAV9-Ctrl</tspan></text>
<text x="916.7" y="1247.7"><tspan class="it">Irf7</tspan><tspan font-size="8.5" dy="-5" class="it">-/-</tspan><tspan dy="5"> + rAAV9-</tspan><tspan class="it">Irf7</tspan></text>
</g>
</svg>
</body></html>
